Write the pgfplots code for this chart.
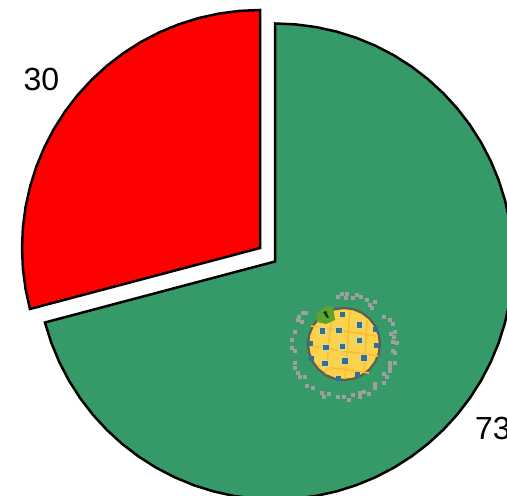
\documentclass[border=0pt]{standalone}
\usepackage{fontspec}
\setmainfont{Liberation Sans}
\usepackage{pgfplots}
\usepackage{pgfplotstable}
\pgfplotsset{compat=1.18}
\definecolor{pgreen}{HTML}{369A68}
\definecolor{speck}{HTML}{A09FA0}
\definecolor{blued}{HTML}{2F6E9E}
\definecolor{halo}{HTML}{E4D878}
\definecolor{yell}{HTML}{FBD24C}
\definecolor{oran}{HTML}{F8BC38}
\definecolor{rimc}{HTML}{5E5C50}
\definecolor{leafc}{HTML}{5AA531}
% slice outlines: angle (degrees) and radius (px)
\pgfplotstableread[row sep=\\]{
a r\\ 90 238\\ 95 238\\ 100 238\\ 105 238\\ 110 238\\ 115 238\\ 120 238\\ 125 238\\ 130 238\\ 135 238\\ 140 238\\ 145 238\\ 150 238\\ 155 238\\ 160 238\\ 165 238\\ 170 238\\ 175 238\\ 180 238\\ 185 238\\ 190 238\\ 194.85 238\\ 194.85 0\\
}\redslice
\pgfplotstableread[row sep=\\]{
a r\\ 90 238\\ 85 238\\ 80 238\\ 75 238\\ 70 238\\ 65 238\\ 60 238\\ 55 238\\ 50 238\\ 45 238\\ 40 238\\ 35 238\\ 30 238\\ 25 238\\ 20 238\\ 15 238\\ 10 238\\ 5 238\\ 0 238\\ -5 238\\ -10 238\\ -15 238\\ -20 238\\ -25 238\\ -30 238\\ -35 238\\ -40 238\\ -45 238\\ -50 238\\ -55 238\\ -60 238\\ -65 238\\ -70 238\\ -75 238\\ -80 238\\ -85 238\\ -90 238\\ -95 238\\ -100 238\\ -105 238\\ -110 238\\ -115 238\\ -120 238\\ -125 238\\ -130 238\\ -135 238\\ -140 238\\ -145 238\\ -150 238\\ -155 238\\ -160 238\\ -165 238\\ -165.15 238\\ -165.15 0\\
}\greenslice
\pgfplotstableread[row sep=\\]{
a r\\ 0 36\\ 15 36\\ 30 36\\ 45 36\\ 60 36\\ 75 36\\ 90 36\\ 105 36\\ 120 36\\ 135 36\\ 150 36\\ 165 36\\ 180 36\\ 195 36\\ 210 36\\ 225 36\\ 240 36\\ 255 36\\ 270 36\\ 285 36\\ 300 36\\ 315 36\\ 330 36\\ 345 36\\
}\fruit
% icon parts, in crop coordinates
\pgfplotstableread[row sep=\\]{
x y\\ 205 80\\ 215 72\\ 230 72\\ 228 85\\ 250 85\\ 262 75\\ 272 82\\ 290 90\\ 315 95\\ 300 105\\ 305 113\\ 342 140\\ 360 150\\ 368 162\\ 376 185\\ 362 192\\ 372 200\\ 368 215\\ 380 218\\ 368 243\\ 375 250\\ 360 280\\ 360 292\\ 360 302\\ 376 278\\ 342 312\\ 352 320\\ 342 338\\ 315 342\\ 315 355\\ 282 366\\ 270 370\\ 298 373\\ 250 375\\ 270 380\\ 237 390\\ 222 380\\ 205 380\\ 178 373\\ 162 380\\ 155 370\\ 130 355\\ 110 347\\ 105 320\\ 90 320\\ 85 310\\ 75 295\\ 75 280\\ 65 235\\ 75 242\\ 65 210\\ 75 185\\ 85 150\\ 95 155\\ 100 130\\ 108 130\\ 88 140\\
}\specks
\pgfplotstableread[row sep=\\]{
x y\\ 157 183\\ 207 181\\ 268 165\\ 268 212\\ 168 232\\ 217 229\\ 165 281\\ 225 273\\ 282 264\\
}\bluedots
\pgfplotstableread[row sep=\\]{
x y\\ 218 135\\ 320 226\\ 120 222\\ 205 325\\ 262 315\\ 125 265\\ 315 178\\
}\rimdots
\begin{document}
\begin{tikzpicture}
\path[use as bounding box] (0,0) rectangle (507pt,496pt);
\begin{axis}[
  at={(0,0)}, anchor=south west,
  width=507pt, height=496pt, scale only axis,
  xmin=0, xmax=507, ymin=0, ymax=496,
  axis lines=none, clip=true,
]
\addplot[draw=black, line width=2.5pt, line join=miter, fill=pgreen]
  table[x expr={275+\thisrow{r}*cos(\thisrow{a})}, y expr={234.5+\thisrow{r}*sin(\thisrow{a})}] {\greenslice} -- cycle;
\addplot[draw=black, line width=2.5pt, line join=miter, fill=red]
  table[x expr={260+\thisrow{r}*cos(\thisrow{a})}, y expr={248+\thisrow{r}*sin(\thisrow{a})}] {\redslice} -- cycle;
% fruit body
\addplot[draw=rimc, line width=2.2pt, fill=yell]
  table[x expr={344+\thisrow{r}*cos(\thisrow{a})}, y expr={152+\thisrow{r}*sin(\thisrow{a})}] {\fruit} -- cycle;
% orange seams
\addplot[oran, line width=1.6pt] coordinates {(311,170) (376,160)};
\addplot[oran, line width=1.6pt] coordinates {(310,150) (378,140)};
\addplot[oran, line width=1.6pt] coordinates {(318,130) (369,123)};
\addplot[oran, line width=1.6pt] coordinates {(332,184) (326,122)};
\addplot[oran, line width=1.6pt] coordinates {(350,186) (345,117)};
\addplot[oran, line width=1.6pt] coordinates {(367,176) (364,124)};
% leaf
\addplot[draw=none, fill=leafc] coordinates {(316,182) (326,190) (333,189) (335,176) (326,172) (317,174)} -- cycle;
\addplot[draw=none, fill=black!70!leafc] coordinates {(323,184) (326,185) (329,178) (327,178)} -- cycle;
% speckled ring
\addplot[only marks, color=speck, mark=square*, mark size=1.6pt, mark options={draw=speck, fill=speck, line width=0pt}]
  table[x expr={270+\thisrow{x}/3}, y expr={226-\thisrow{y}/3}] {\specks};
% seeds
\addplot[only marks, color=halo, mark=square*, mark size=3.8pt, mark options={draw=halo, fill=halo, line width=0pt}]
  table[x expr={270+\thisrow{x}/3}, y expr={226-\thisrow{y}/3}] {\bluedots};
\addplot[only marks, color=blued, mark=square*, mark size=2.3pt, mark options={draw=blued, fill=blued, line width=0pt}]
  table[x expr={270+\thisrow{x}/3}, y expr={226-\thisrow{y}/3}] {\bluedots};
\addplot[only marks, color=blued, mark=square*, mark size=2pt, mark options={draw=blued, fill=blued, line width=0pt}]
  table[x expr={270+\thisrow{x}/3}, y expr={226-\thisrow{y}/3}] {\rimdots};
\node[font=\fontsize{32}{32}\selectfont, text=black, inner sep=0pt] at (axis cs:41.5,417) {30};
\node[font=\fontsize{32}{32}\selectfont, text=black, inner sep=0pt, anchor=west] at (axis cs:475,68) {73};
\end{axis}
\end{tikzpicture}
\end{document}
